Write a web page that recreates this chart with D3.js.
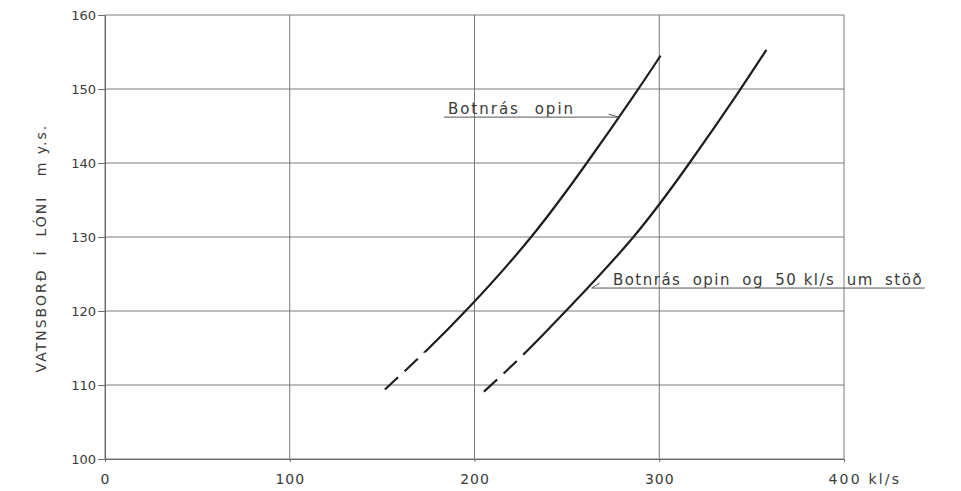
<!DOCTYPE html>
<html>
<head>
<meta charset="utf-8">
<script src="https://cdn.jsdelivr.net/npm/d3@7"></script>
<style>
  body { margin: 0; background: #fff; }
  svg text { font-family: "DejaVu Sans", sans-serif; fill: #3a3a3a; }
  .grid line { stroke: #7a7a7a; stroke-width: 1; }
  .axis path, .axis line { stroke: #6a6a6a; stroke-width: 1; }
  .axis text { font-size: 13px; }
  .axis-x text { font-size: 14px; letter-spacing: 1px; }
  .curve { fill: none; stroke: #1e1e1e; stroke-width: 2.2; }
  .curve-dashed { stroke-dasharray: 18 9; }
  .leader { fill: none; stroke: #555; stroke-width: 1; }
  .label { font-size: 15px; }
  .title { font-size: 14px; letter-spacing: 2px; white-space: pre; }
</style>
</head>
<body>
<svg id="chart" width="961" height="491"></svg>
<script>
// axis ticks
const xTicks = [0, 100, 200, 300, 400];
const yTicks = [100, 110, 120, 130, 140, 150, 160];
const xUnit = 'kl/s';
const yTitle = 'VATNSBORÐ  Í  LÓNI   m y.s.';

// curve 1: bottom outlet open (flow kl/s, level m y.s.)
const openFlow = [151.5, 173.2, 195.7, 231.8, 261, 288.8, 300.7];
const openLevel = [109.4, 114.4, 120, 130, 140, 150, 154.5];

// curve 2: bottom outlet open + 50 kl/s through the station
const stationFlow = [205.1, 227.3, 249.5, 287.5, 316.6, 344.2, 358];
const stationLevel = [109.1, 114.2, 120, 130, 140, 150, 155.3];

// level below which the curves are drawn dashed
const openDashedBelow = 114.4;
const stationDashedBelow = 114.2;

const labels = ['Botnrás opin', 'Botnrás opin og 50 kl/s um stöð'];

const margin = { top: 15, right: 117, bottom: 32, left: 105 };
const svg = d3.select('#chart');
const W = +svg.attr('width');
const H = +svg.attr('height');
const width = W - margin.left - margin.right;
const height = H - margin.top - margin.bottom;

const x = d3.scaleLinear().domain([0, 400]).range([0, width]);
const y = d3.scaleLinear().domain([100, 160]).range([height, 0]);

const g = svg.append('g').attr('transform', `translate(${margin.left},${margin.top})`);
const defs = svg.append('defs');

// grid
const grid = g.append('g').attr('class', 'grid');
grid.selectAll('.gx').data(xTicks).join('line')
  .attr('x1', d => x(d)).attr('x2', d => x(d))
  .attr('y1', 0).attr('y2', height);
grid.selectAll('.gy').data(yTicks).join('line')
  .attr('class', 'gy')
  .attr('x1', 0).attr('x2', width)
  .attr('y1', d => y(d)).attr('y2', d => y(d));

// axes
const axisX = d3.axisBottom(x).tickValues(xTicks).tickSizeInner(3).tickSizeOuter(0).tickPadding(12)
  .tickFormat(d => d === 400 ? `${d} ${xUnit}` : d);
const gx = g.append('g').attr('class', 'axis axis-x')
  .attr('transform', `translate(0,${height})`).call(axisX);
gx.selectAll('.tick text').filter(d => d === 400)
  .attr('text-anchor', 'start').attr('x', -16)
  .style('letter-spacing', '2.2px');

const axisY = d3.axisLeft(y).tickValues(yTicks).tickSizeInner(7).tickSizeOuter(0).tickPadding(2);
g.append('g').attr('class', 'axis axis-y').call(axisY);

// y title
svg.append('text')
  .attr('class', 'title')
  .attr('transform', `translate(46,${margin.top + y(128.5)}) rotate(-90)`)
  .attr('text-anchor', 'middle')
  .text(yTitle);

// curves: one smooth path, clipped into a dashed lower part and a solid upper part
const line = d3.line()
  .x(d => x(d[0]))
  .y(d => y(d[1]))
  .curve(d3.curveBasis);

function drawCurve(id, flow, level, dashedBelow) {
  const pts = flow.map((f, i) => [f, level[i]]);
  const cut = y(dashedBelow);
  defs.append('clipPath').attr('id', `${id}-low`)
    .append('rect').attr('x', -10).attr('y', cut).attr('width', width + 20).attr('height', height - cut + 10);
  defs.append('clipPath').attr('id', `${id}-high`)
    .append('rect').attr('x', -10).attr('y', -10).attr('width', width + 20).attr('height', cut + 10);
  g.append('path').attr('class', 'curve curve-dashed')
    .attr('clip-path', `url(#${id}-low)`)
    .attr('d', line(pts));
  g.append('path').attr('class', 'curve')
    .attr('clip-path', `url(#${id}-high)`)
    .attr('d', line(pts));
}

drawCurve('open', openFlow, openLevel, openDashedBelow);
drawCurve('station', stationFlow, stationLevel, stationDashedBelow);

// labels with leaders pointing to the curves
const notes = [
  { text: labels[0], tx: 185.6, ty: 146.6, x1: 183.4, x2: 278, ly: 146.2, end: 'x2', barb: [-10, -3], ls: 2, ws: 8 },
  { text: labels[1], tx: 274.9, ty: 123.5, x1: 263.4, x2: 443.7, ly: 123.1, end: 'x1', barb: [8, -5], ls: 1.5, ws: 5 }
];

notes.forEach(n => {
  const t = g.append('text').attr('class', 'label')
    .attr('x', x(n.tx)).attr('y', y(n.ty))
    .style('letter-spacing', `${n.ls}px`)
    .style('word-spacing', `${n.ws}px`);
  // keep "50 kl/s" tight as in the drawing
  const parts = n.text.split(/(50 kl\/s)/);
  parts.filter(p => p.length).forEach(p => {
    t.append('tspan')
      .style('word-spacing', p === '50 kl/s' ? '0px' : null)
      .text(p);
  });
  g.append('line').attr('class', 'leader')
    .attr('x1', x(n.x1)).attr('x2', x(n.x2))
    .attr('y1', y(n.ly)).attr('y2', y(n.ly));
  const px = x(n[n.end]);
  const py = y(n.ly);
  g.append('line').attr('class', 'leader')
    .attr('x1', px).attr('y1', py)
    .attr('x2', px + n.barb[0]).attr('y2', py + n.barb[1]);
});
</script>
</body>
</html>
